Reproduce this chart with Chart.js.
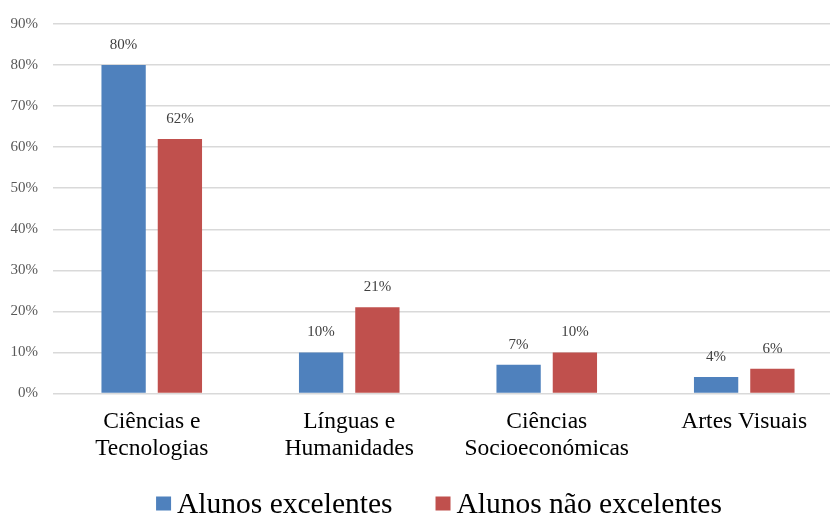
<!DOCTYPE html>
<html>
<head>
<meta charset="utf-8">
<script src="https://cdn.jsdelivr.net/npm/chart.js@4/dist/chart.umd.min.js"></script>
<style>
  html, body { margin: 0; padding: 0; overflow: hidden; background: #ffffff; }
  canvas { display: block; }
</style>
</head>
<body>
<canvas id="chart" width="844" height="515"></canvas>
<script>
// Áreas de estudo (rótulos em duas linhas)
const categories = [
  ['Ciências e', 'Tecnologias'],
  ['Línguas e', 'Humanidades'],
  ['Ciências', 'Socioeconómicas'],
  ['Artes Visuais']
];

// Percentagem de alunos por área
const alunosExcelentes = [80, 10, 7, 4];
const alunosNaoExcelentes = [62, 21, 10, 6];

const seriesNames = ['Alunos excelentes', 'Alunos não excelentes'];
const seriesColors = ['#4F81BD', '#C0504D'];

// Eixo vertical: 0% a 90%, de 10 em 10
const yMin = 0;
const yMax = 90;
const yStep = 10;

const SERIF = '"Liberation Serif", "Times New Roman", serif';

// Rótulos de valor por cima de cada barra
const valueLabels = {
  id: 'valueLabels',
  afterDatasetsDraw(chart) {
    const ctx = chart.ctx;
    ctx.save();
    ctx.font = '15px ' + SERIF;
    ctx.fillStyle = '#404040';
    ctx.textAlign = 'center';
    ctx.textBaseline = 'middle';
    chart.data.datasets.forEach((ds, i) => {
      chart.getDatasetMeta(i).data.forEach((bar, j) => {
        ctx.fillText(ds.data[j] + '%', bar.x, bar.y - 20);
      });
    });
    ctx.restore();
  }
};

// Legenda inferior com quadrados coloridos
const bottomLegend = {
  id: 'bottomLegend',
  afterDraw(chart) {
    const ctx = chart.ctx;
    ctx.save();
    ctx.font = '29.5px ' + SERIF;
    const boxW = 15, boxH = 14, textGap = 6, itemGap = 43;
    const items = chart.data.datasets.map(ds => ({
      label: ds.label,
      color: ds.backgroundColor,
      width: boxW + textGap + ctx.measureText(ds.label).width
    }));
    const total = items.reduce((s, it) => s + it.width, 0) + itemGap * (items.length - 1);
    let x = chart.width / 2 + 17 - total / 2;
    const baseline = chart.height - 2.5;
    const boxTop = chart.height - 18.5;
    ctx.textBaseline = 'alphabetic';
    ctx.textAlign = 'left';
    items.forEach(it => {
      ctx.fillStyle = it.color;
      ctx.fillRect(x, boxTop, boxW, boxH);
      ctx.fillStyle = '#000000';
      ctx.fillText(it.label, x + boxW + textGap, baseline);
      x += it.width + itemGap;
    });
    ctx.restore();
  }
};

new Chart(document.getElementById('chart'), {
  type: 'bar',
  data: {
    labels: categories,
    datasets: [
      {
        label: seriesNames[0],
        data: alunosExcelentes,
        backgroundColor: seriesColors[0],
        barPercentage: 0.787,
        categoryPercentage: 0.57
      },
      {
        label: seriesNames[1],
        data: alunosNaoExcelentes,
        backgroundColor: seriesColors[1],
        barPercentage: 0.787,
        categoryPercentage: 0.57
      }
    ]
  },
  options: {
    responsive: false,
    animation: false,
    events: [],
    layout: { padding: { top: 12, right: 1, bottom: 46.5, left: 0 } },
    plugins: {
      legend: { display: false },
      tooltip: { enabled: false }
    },
    scales: {
      x: {
        grid: { display: false, drawTicks: false },
        border: { display: false },
        ticks: {
          padding: 15,
          color: '#000000',
          font: { family: SERIF, size: 23.5, lineHeight: 1.15 },
          maxRotation: 0,
          autoSkip: false
        },
        afterFit(scale) { scale.height = 75; }
      },
      y: {
        min: yMin,
        max: yMax,
        grid: { color: '#d9d9d9', lineWidth: 1.5, drawTicks: false },
        border: { display: false },
        ticks: {
          stepSize: yStep,
          padding: 15,
          color: '#595959',
          font: { family: SERIF, size: 15 },
          callback: v => v + '%'
        },
        afterFit(scale) { scale.width = 53; }
      }
    }
  },
  plugins: [valueLabels, bottomLegend]
});
</script>
</body>
</html>
